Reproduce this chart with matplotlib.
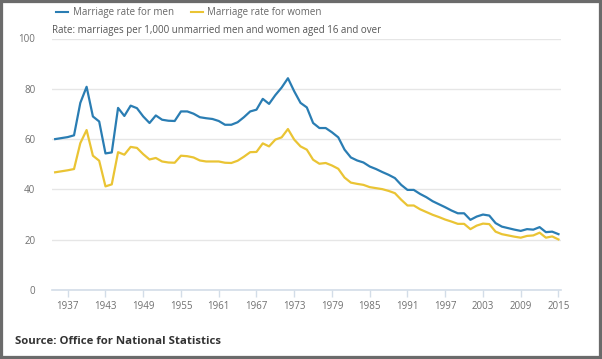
import numpy as np
import matplotlib
matplotlib.use('Agg')
import matplotlib.pyplot as plt
from matplotlib.lines import Line2D
from matplotlib.patches import Rectangle

plt.rcParams['font.family'] = ['Open Sans', 'DejaVu Sans']

# data
years = list(range(1935, 2016))
men = [60.0, 60.4, 60.8, 61.5, 74.4, 80.8, 69.0, 67.0, 54.3, 54.7,
       72.4, 69.2, 73.3, 72.3, 69.0, 66.4, 69.4, 67.7, 67.3, 67.2,
       71.0, 71.0, 70.1, 68.7, 68.3, 68.0, 67.2, 65.7, 65.7, 66.7,
       68.7, 71.0, 71.7, 76.0, 74.0, 77.5, 80.5, 84.2, 79.0, 74.4,
       72.6, 66.4, 64.4, 64.4, 62.7, 60.7, 55.8, 52.7, 51.5, 50.7,
       49.1, 48.1, 46.9, 45.8, 44.5, 41.8, 39.8, 39.8, 38.2, 36.9,
       35.3, 34.1, 32.9, 31.6, 30.5, 30.5, 27.9, 29.2, 30.0, 29.6,
       26.6, 25.2, 24.6, 24.0, 23.5, 24.2, 24.0, 25.0, 23.0, 23.2,
       22.2]
women = [46.8, 47.2, 47.6, 48.1, 58.4, 63.6, 53.4, 51.4, 41.2, 42.0,
         54.8, 53.8, 56.9, 56.5, 54.0, 51.9, 52.5, 51.1, 50.7, 50.6,
         53.4, 53.2, 52.7, 51.5, 51.1, 51.1, 51.1, 50.6, 50.5, 51.4,
         53.0, 54.8, 54.9, 58.3, 57.1, 59.8, 60.7, 64.0, 59.8, 57.1,
         55.8, 51.8, 50.2, 50.5, 49.5, 48.2, 44.7, 42.7, 42.2, 41.8,
         40.9, 40.5, 40.1, 39.4, 38.5, 35.9, 33.6, 33.6, 32.1, 31.0,
         29.9, 29.0, 28.0, 27.2, 26.3, 26.3, 24.2, 25.6, 26.4, 26.2,
         23.2, 22.2, 21.7, 21.2, 20.8, 21.5, 21.7, 22.8, 20.8, 21.3,
         20.1]
xticks = list(range(1937, 2016, 6))
yticks = [0, 20, 40, 60, 80, 100]

blue = '#2a7db3'
yellow = '#eac434'

W, H = 602, 359
fig = plt.figure(figsize=(W / 100, H / 100), dpi=100)

# axes placed in pixel terms
left, right, top, bottom = 52, 561, 38.5, 290
ax = fig.add_axes([left / W, (H - bottom) / H, (right - left) / W, (bottom - top) / H])

ax.plot(years, men, color=blue, lw=1.6)
ax.plot(years, women, color=yellow, lw=1.6)

ax.set_xlim(1934.5, 2015.4)
ax.set_ylim(0, 100)
ax.set_xticks(xticks)
ax.set_yticks(yticks)
ax.grid(axis='y', color='#e6e6e6', lw=1)
ax.set_axisbelow(True)
for s in ['top', 'right', 'left']:
    ax.spines[s].set_visible(False)
ax.spines['bottom'].set_color('#d3dde8')
ax.spines['bottom'].set_linewidth(1.2)
ax.tick_params(axis='x', colors='#d3dde8', length=5, width=1, labelcolor='#707070',
               labelsize=7, pad=3)
ax.tick_params(axis='y', length=0, labelcolor='#707070', labelsize=7, pad=12)

# legend drawn by hand
fig.add_artist(Line2D([56 / W, 68 / W], [1 - 12 / H, 1 - 12 / H], color=blue, lw=1.5))
fig.text(73 / W, 1 - 12 / H, 'Marriage rate for men', color='#666666', fontsize=7.0, va='center')
fig.add_artist(Line2D([191 / W, 203 / W], [1 - 12 / H, 1 - 12 / H], color=yellow, lw=1.5))
fig.text(207 / W, 1 - 12 / H, 'Marriage rate for women', color='#666666', fontsize=7.0, va='center')

fig.text(52 / W, 1 - 31 / H, 'Rate: marriages per 1,000 unmarried men and women aged 16 and over',
         color='#555555', fontsize=7, va='center')
fig.text(15 / W, 1 - 342 / H, 'Source: Office for National Statistics', color='#333333',
         fontsize=8.2, fontweight='bold', va='center')

# grey frame round the picture
fig.patches.append(Rectangle((0, 0), 1, 1, transform=fig.transFigure, fill=False,
                             edgecolor='#6b6b6b', lw=4.5))

fig.savefig('out.png', dpi=100)
